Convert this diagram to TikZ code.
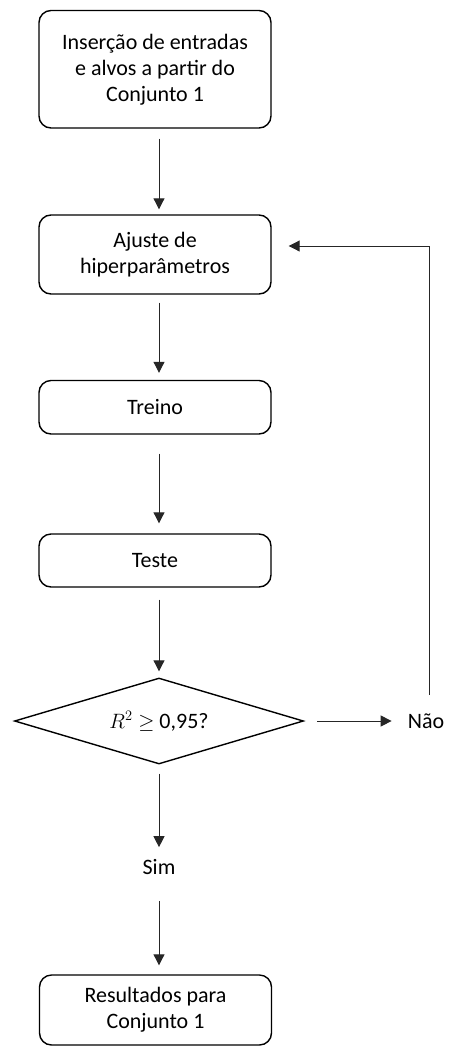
\documentclass[tikz,border=0pt]{standalone}
\usepackage{fontspec}
\setmainfont{Carlito}
\usetikzlibrary{shapes.geometric,arrows.meta}
\tikzset{
  box/.style={draw, line width=1.4pt, rounded corners=12pt, align=center, font=\fontsize{22}{26}\selectfont, inner sep=0pt, minimum width=232pt},
  lbl/.style={font=\fontsize{22}{26}\selectfont, inner sep=0pt},
  conn/.style={line width=1pt, draw=black!85, -{Triangle[length=11pt,width=11pt]}},
  plain/.style={line width=1pt, draw=black!85}
}
\begin{document}
\begin{tikzpicture}[x=1pt,y=-1pt]
\useasboundingbox (0,0) rectangle (449,1047);
\node[box, minimum height=117.5pt] (b1) at (155,69.25) {Inserção de entradas\\e alvos a partir do\\Conjunto 1};
\node[box, minimum height=79pt] (b2) at (155,254.5) {Ajuste de\\hiperparâmetros};
\node[box, minimum height=53.5pt] (b3) at (155,407.25) {Treino};
\node[box, minimum height=53pt] (b4) at (155,560.5) {Teste};
\node[draw, line width=1.4pt, diamond, aspect=3.36, minimum width=289pt, minimum height=86pt, inner sep=0pt, font=\fontsize{22}{26}\selectfont] (d) at (159,721) {$R^2\geq$ 0,95?};
\node[lbl] (nao) at (426,721) {Não};
\node[lbl] (sim) at (159,867) {Sim};
\node[box, minimum height=70pt] (b5) at (155.5,1010) {Resultados para\\Conjunto 1};
\coordinate (loopbot) at (429,695);
\coordinate (loopcorner) at (429,246);
\draw[conn, shorten <=10pt, shorten >=5pt] ([xshift=4pt]b1.south) -- ([xshift=4pt]b2.north);
\draw[conn, shorten <=8pt, shorten >=7pt] ([xshift=4pt]b2.south) -- ([xshift=4pt]b3.north);
\draw[conn, shorten <=19pt, shorten >=10pt] ([xshift=4pt]b3.south) -- ([xshift=4pt]b4.north);
\draw[conn, shorten <=12pt, shorten >=6pt] ([xshift=4pt]b4.south) -- (d.north);
\draw[conn, shorten <=13pt, shorten >=16pt] (d.east) -- (nao.west);
\draw[plain] (loopbot) -- (loopcorner);
\draw[conn, shorten >=17pt] (loopcorner) -- (loopcorner -| b2.east);
\draw[conn, shorten <=9pt, shorten >=12pt] (d.south) -- (sim.north);
\draw[conn, shorten <=26pt, shorten >=9pt] (sim.south) -- ([xshift=3.5pt]b5.north);
\end{tikzpicture}
\end{document}
